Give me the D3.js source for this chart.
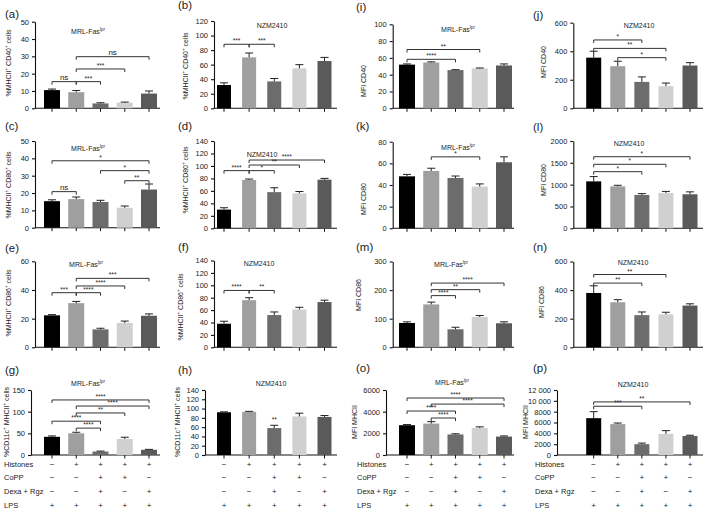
<!DOCTYPE html>
<html>
<head>
<meta charset="utf-8">
<script src="https://cdn.jsdelivr.net/npm/d3@7"></script>
<style>
  body { margin: 0; background: #fff; }
  svg text { font-family: "Liberation Sans", Arial, sans-serif; fill: #222; }
</style>
</head>
<body>
<svg id="fig" width="709" height="522"></svg>
<script>
// ---- treatment table under the bottom row ----
const treatRows = ["Histones", "CoPP", "Dexa + Rgz", "LPS"];
const histonesSigns = ["−", "+", "+", "+", "+"];
const coppSigns = ["−", "−", "+", "+", "−"];
const dexaSigns = ["−", "−", "+", "−", "+"];
const lpsSigns = ["+", "+", "+", "+", "+"];

// ---- panel data (mean, SEM, y ticks, significance brackets [from, to, height, label]) ----
// (a) MRL-Fas lpr  %MHCII+ CD40+
const aMean = [10.5, 9.3, 2.8, 3.3, 8.5];
const aErr = [0.6, 1.0, 0.4, 0.3, 1.5];
const aTicks = [0, 10, 20, 30, 40, 50];
const aSig = [[0, 1, 15.4, "ns"], [1, 2, 15.4, "***"], [1, 3, 22.7, "***"], [1, 4, 29.8, "ns"]];
// (b) NZM2410  %MHCII+ CD40+
const bMean = [32, 70, 37, 55, 65];
const bErr = [3, 6, 4, 5, 5];
const bTicks = [0, 20, 40, 60, 80, 100, 120];
const bSig = [[0, 1, 88, "***"], [1, 2, 88, "***"]];
// (i) MRL-Fas lpr  MFI CD40
const iMean = [52, 54.5, 45.5, 47.5, 51];
const iErr = [0.8, 0.8, 0.5, 0.5, 1.8];
const iTicks = [0, 20, 40, 60, 80, 100];
const iSig = [[0, 3, 70, "**"], [0, 2, 58.3, "****"]];
// (j) NZM2410  MFI CD40
const jMean = [355, 295, 185, 155, 300];
const jErr = [45, 35, 35, 22, 20];
const jTicks = [0, 200, 400, 600];
const jSig = [[0, 2, 479, "*"], [0, 3, 420, "**"], [1, 3, 355, "*"]];
// (c) MRL-Fas lpr  %MHCII+ CD80+
const cMean = [15.3, 16.5, 14.8, 11.5, 22];
const cErr = [0.8, 1.2, 1.0, 1.0, 3.2];
const cTicks = [0, 10, 20, 30, 40, 50];
const cSig = [[0, 4, 38.6, "*"], [2, 4, 32.9, "*"], [3, 4, 27.1, "**"], [0, 1, 20.8, "ns"]];
// (d) NZM2410  %MHCII+ CD80+
const dMean = [30, 77.5, 58, 56, 78];
const dErr = [3, 1.5, 7, 3, 2];
const dTicks = [0, 20, 40, 60, 80, 100, 120, 140];
const dSig = [[1, 4, 109.5, "****"], [1, 3, 101.5, "**"], [1, 2, 92.5, "*"], [0, 1, 92.5, "****"]];
// (k) MRL-Fas lpr  MFI CD80
const kMean = [48, 53, 46.5, 38.5, 61];
const kErr = [1.8, 2.5, 1.8, 2.5, 5];
const kTicks = [0, 20, 40, 60, 80];
const kSig = [[1, 3, 66, "*"]];
// (l) NZM2410  MFI CD80
const lMean = [1075, 960, 765, 810, 780];
const lErr = [110, 25, 30, 35, 55];
const lTicks = [0, 500, 1000, 1500, 2000];
const lSig = [[0, 4, 1640, "*"], [0, 3, 1466, "*"], [0, 2, 1297, "*"]];
// (e) MRL-Fas lpr  %MHCII+ CD86+
const eMean = [22.3, 30.8, 12.5, 17, 22];
const eErr = [0.5, 1.2, 0.8, 1.3, 1.3];
const eTicks = [0, 20, 40, 60];
const eSig = [[1, 4, 48.1, "***"], [1, 3, 42.8, "****"], [0, 1, 38.1, "***"], [1, 2, 38.1, "****"]];
// (f) NZM2410  %MHCII+ CD86+
const fMean = [38, 76, 52, 61, 73];
const fErr = [4, 4, 5, 3.5, 3];
const fTicks = [0, 20, 40, 60, 80, 100, 120, 140];
const fSig = [[0, 1, 91.7, "****"], [1, 2, 91.7, "**"]];
// (m) MRL-Fas lpr  MFI CD86
const mMean = [85, 150, 63, 106, 84];
const mErr = [4, 8, 7, 5, 5];
const mTicks = [0, 100, 200, 300];
const mSig = [[1, 4, 224.6, "****"], [1, 3, 201.6, "**"], [1, 2, 180.7, "****"]];
// (n) NZM2410  MFI CD86
const nMean = [380, 315, 225, 230, 292];
const nErr = [50, 18, 22, 15, 12];
const nTicks = [0, 200, 400, 600];
const nSig = [[0, 3, 509, "**"], [0, 2, 449, "**"]];
// (g) MRL-Fas lpr  %CD11c+ MHCII+
const gMean = [42, 50, 8, 37, 12];
const gErr = [2, 2.5, 1, 4, 1];
const gTicks = [0, 50, 100, 150];
const gSig = [[0, 4, 127, "****"], [1, 4, 113, "****"], [1, 3, 97, "**"], [0, 2, 78, "****"], [1, 2, 62, "****"]];
// (h) NZM2410  %CD11c+ MHCII+
const hMean = [92, 93, 58, 83, 82];
const hErr = [1, 1, 6, 7, 3];
const hTicks = [0, 20, 40, 60, 80, 100, 120, 140];
const hSig = [[2, 2, 68, "**"]];
// (o) MRL-Fas lpr  MFI MHCII
const oMean = [2750, 2900, 1900, 2500, 1700];
const oErr = [60, 180, 60, 100, 60];
const oTicks = [0, 2000, 4000, 6000];
const oSig = [[0, 4, 5260, "****"], [1, 4, 4700, "****"], [0, 2, 4060, "****"], [1, 2, 3415, "****"]];
// (p) NZM2410  MFI MHCII
const pMean = [6800, 5700, 2000, 3900, 3500];
const pErr = [1200, 200, 200, 600, 150];
const pTicks = [0, 2000, 4000, 6000, 8000, 10000, 12000];
const pSig = [[0, 4, 9800, "**"], [0, 2, 9000, "***"]];

// ---- layout ----
const barColors = ["#000000", "#9f9f9f", "#6c6c6c", "#d0d0d0", "#5a5a5a"];
const cols = [
  { axis: 35, c1: 52, c5: 149, bw: 16, xEnd: 160, lab: 5, ylab: 11, tlab: 4 },
  { axis: 214, c1: 224, c5: 324.5, bw: 14, xEnd: 337, lab: 178, ylab: 188, tlab: null },
  { axis: 392.7, c1: 407, c5: 504, bw: 16, xEnd: 514, lab: 356, ylab: 366, tlab: 357 },
  { axis: 573.3, c1: 593.7, c5: 690, bw: 15, xEnd: 703, lab: 533, ylab: 546, tlab: 535 }
];
const tableY = [467, 480, 494, 508];

const yLabCD = m => [["%MHCII", 0], ["+", 1], [" " + m, 0], ["+", 1], [" cells", 0]];
const yLabDC = [["%CD11c", 0], ["+", 1], [" MHCII", 0], ["+", 1], [" cells", 0]];
const MRL = [["MRL-Fas", 0], ["lpr", 1]];
const NZM = [["NZM2410", 0]];

const panels = [
  { id: "a", col: 0, top: 21.7, zero: 108.3, labY: 18, title: MRL, tx: 88, ty: 34, ylabel: yLabCD("CD40"), yly: 63, mean: aMean, err: aErr, ticks: aTicks, sig: aSig },
  { id: "b", col: 1, top: 21, zero: 108.3, labY: 9, title: NZM, tx: 272, ty: 28, ylabel: yLabCD("CD40"), yly: 66, mean: bMean, err: bErr, ticks: bTicks, sig: bSig },
  { id: "i", col: 2, top: 24.3, zero: 108.3, labY: 11, title: MRL, tx: 458, ty: 32, ylabel: [["MFI CD40", 0]], yly: 81, mean: iMean, err: iErr, ticks: iTicks, sig: iSig },
  { id: "j", col: 3, top: 22.7, zero: 108.3, labY: 19, title: NZM, tx: 639, ty: 28, ylabel: [["MFI CD40", 0]], yly: 62, mean: jMean, err: jErr, ticks: jTicks, sig: jSig },
  { id: "c", col: 0, top: 141, zero: 227.7, labY: 130, title: MRL, tx: 88, ty: 151, ylabel: yLabCD("CD80"), yly: 185, mean: cMean, err: cErr, ticks: cTicks, sig: cSig },
  { id: "d", col: 1, top: 141, zero: 228.3, labY: 130, title: NZM, tx: 262, ty: 157, ylabel: yLabCD("CD80"), yly: 180, mean: dMean, err: dErr, ticks: dTicks, sig: dSig },
  { id: "k", col: 2, top: 141.7, zero: 228.3, labY: 130, title: MRL, tx: 458, ty: 150, ylabel: [["MFI CD80", 0]], yly: 199, mean: kMean, err: kErr, ticks: kTicks, sig: kSig },
  { id: "l", col: 3, top: 141, zero: 228.3, labY: 131, title: NZM, tx: 629, ty: 146, ylabel: [["MFI CD80", 0]], yly: 180, mean: lMean, err: lErr, ticks: lTicks, sig: lSig },
  { id: "e", col: 0, top: 261.3, zero: 347.3, labY: 252, title: MRL, tx: 86, ty: 267, ylabel: yLabCD("CD86"), yly: 303, mean: eMean, err: eErr, ticks: eTicks, sig: eSig },
  { id: "f", col: 1, top: 260.5, zero: 347.3, labY: 251, title: NZM, tx: 259, ty: 266, ylabel: yLabCD("CD86"), ylx: 183, yly: 307, mean: fMean, err: fErr, ticks: fTicks, sig: fSig },
  { id: "m", col: 2, top: 261.5, zero: 347.3, labY: 251, title: MRL, tx: 451, ty: 267, ylabel: [["MFI CD86", 0]], ylx: 361, yly: 295, mean: mMean, err: mErr, ticks: mTicks, sig: mSig },
  { id: "n", col: 3, top: 261.5, zero: 347.3, labY: 251, title: NZM, tx: 633, ty: 265, ylabel: [["MFI CD86", 0]], ylx: 544, yly: 302, mean: nMean, err: nErr, ticks: nTicks, sig: nSig },
  { id: "g", col: 0, top: 390, zero: 455, axis: 31, labY: 374, title: MRL, tx: 88, ty: 386, ylabel: yLabDC, ylx: 9, yly: 422, mean: gMean, err: gErr, ticks: gTicks, sig: gSig },
  { id: "h", col: 1, top: 390, zero: 455, axis: 205, labY: 374, title: NZM, tx: 271, ty: 386, ylabel: yLabDC, ylx: 180, yly: 422, mean: hMean, err: hErr, ticks: hTicks, sig: hSig },
  { id: "o", col: 2, top: 390, zero: 455, axis: 386, labY: 372, title: MRL, tx: 452, ty: 385, ylabel: [["MFI MHCII", 0]], ylx: 357, yly: 422, mean: oMean, err: oErr, ticks: oTicks, sig: oSig },
  { id: "p", col: 3, top: 390, zero: 455, axis: 557, labY: 372, title: NZM, tx: 633, ty: 387, ylabel: [["MFI MHCII", 0]], ylx: 528, yly: 422, mean: pMean, err: pErr, ticks: pTicks, sig: pSig }
];

const svg = d3.select("#fig");

// text with raised small parts (superscripts)
function richText(sel, parts, size) {
  parts.forEach(([s, sup], k) => {
    const t = sel.append("tspan").text(s)
      .attr("font-size", sup ? size * 0.65 : size);
    if (sup) t.attr("dy", -size * 0.4);
    else if (k > 0 && parts[k - 1][1]) t.attr("dy", size * 0.4);
  });
  return sel;
}

const fmt = v => v >= 10000 ? d3.format(",")(v).replace(",", " ") : String(v);

panels.forEach(p => {
  const c = cols[p.col];
  const axisX = p.axis !== undefined ? p.axis : c.axis;
  const step = (c.c5 - c.c1) / 4;
  const pi = 1 - c.bw / step;
  const x = d3.scaleBand()
    .domain(d3.range(5))
    .range([c.c1 - step / 2, c.c5 + step / 2])
    .paddingInner(pi)
    .paddingOuter(pi / 2);
  const y = d3.scaleLinear()
    .domain([0, d3.max(p.ticks)])
    .range([p.zero, p.top]);
  const cx = i => x(i) + x.bandwidth() / 2;

  const g = svg.append("g");

  // panel letter
  g.append("text")
    .attr("x", c.lab).attr("y", p.labY)
    .attr("font-size", 11.5)
    .text("(" + p.id + ")");

  // title
  richText(g.append("text")
    .attr("x", p.tx).attr("y", p.ty)
    .attr("text-anchor", "middle"), p.title, 7);

  // y axis
  g.append("g")
    .attr("transform", `translate(${axisX},0)`)
    .call(d3.axisLeft(y).tickValues(p.ticks).tickFormat(fmt).tickSize(3).tickSizeOuter(0))
    .call(a => a.selectAll("text").attr("font-size", 7.5).attr("fill", "#222").attr("font-family", "Liberation Sans, Arial, sans-serif"))
    .call(a => a.selectAll("line,path").attr("stroke", "#111").attr("stroke-width", 1.1));

  // y label
  richText(g.append("text")
    .attr("transform", `translate(${p.ylx !== undefined ? p.ylx : c.ylab},${p.yly}) rotate(-90)`)
    .attr("text-anchor", "middle"), p.ylabel, 7);

  // x axis
  g.append("line")
    .attr("x1", axisX).attr("x2", c.xEnd)
    .attr("y1", p.zero).attr("y2", p.zero)
    .attr("stroke", "#111").attr("stroke-width", 1.1);
  g.append("g")
    .selectAll("line").data(d3.range(5)).join("line")
    .attr("x1", cx).attr("x2", cx)
    .attr("y1", p.zero).attr("y2", p.zero + 3.5)
    .attr("stroke", "#111");

  // bars
  g.append("g")
    .selectAll("rect").data(p.mean).join("rect")
    .attr("x", (d, i) => x(i))
    .attr("width", x.bandwidth())
    .attr("y", d => y(d))
    .attr("height", d => p.zero - y(d))
    .attr("fill", (d, i) => barColors[i]);

  // error bars (upper only)
  const eb = g.append("g").attr("stroke", "#222").attr("stroke-width", 1);
  eb.selectAll(".v").data(p.mean).join("line")
    .attr("x1", (d, i) => cx(i)).attr("x2", (d, i) => cx(i))
    .attr("y1", d => y(d)).attr("y2", (d, i) => y(d + p.err[i]));
  eb.selectAll(".h").data(p.mean).join("line")
    .attr("x1", (d, i) => cx(i) - 4).attr("x2", (d, i) => cx(i) + 4)
    .attr("y1", (d, i) => y(d + p.err[i])).attr("y2", (d, i) => y(d + p.err[i]));

  // significance brackets
  p.sig.forEach(([i, j, v, lab]) => {
    const yy = y(v);
    if (i !== j) {
      g.append("path")
        .attr("d", `M${cx(i)},${yy + 3}V${yy}H${cx(j)}V${yy + 3}`)
        .attr("fill", "none").attr("stroke", "#333").attr("stroke-width", 1);
    }
    g.append("text")
      .attr("x", (cx(i) + cx(j)) / 2)
      .attr("y", lab === "ns" ? yy - 2 : yy - 1)
      .attr("text-anchor", "middle")
      .attr("font-size", lab === "ns" ? 8 : 6.5)
      .text(lab);
  });

  // treatment table under the last row
  if (p.id === "g" || p.id === "h" || p.id === "o" || p.id === "p") {
    const signs = [histonesSigns, coppSigns, dexaSigns, lpsSigns];
    signs.forEach((row, r) => {
      if (c.tlab !== null) {
        g.append("text").attr("x", c.tlab).attr("y", tableY[r])
          .attr("font-size", 7.5).text(treatRows[r]);
      }
      g.append("g").selectAll("text").data(row).join("text")
        .attr("x", (d, i) => cx(i)).attr("y", tableY[r])
        .attr("text-anchor", "middle")
        .attr("font-size", 8)
        .text(d => d);
    });
  }
});
</script>
</body>
</html>
